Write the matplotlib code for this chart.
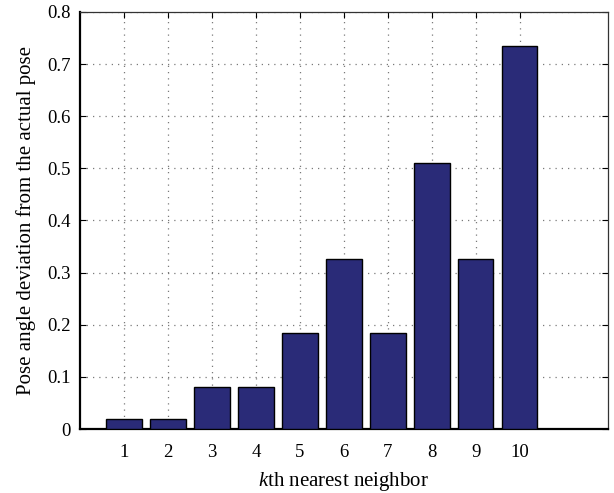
import numpy as np
import matplotlib
matplotlib.use('Agg')
import matplotlib.pyplot as plt

plt.rcParams['font.family'] = 'Liberation Serif'
plt.rcParams['mathtext.fontset'] = 'custom'
plt.rcParams['mathtext.rm'] = 'Liberation Serif'
plt.rcParams['mathtext.it'] = 'Liberation Serif:italic'

# k-th neighbour and its pose deviation
k = [1, 2, 3, 4, 5, 6, 7, 8, 9, 10]
deviation = [0.02, 0.02, 0.08, 0.08, 0.184, 0.326, 0.184, 0.51, 0.326, 0.735]
y_ticks = [0, 0.1, 0.2, 0.3, 0.4, 0.5, 0.6, 0.7, 0.8]
y_labels = ['0', '0.1', '0.2', '0.3', '0.4', '0.5', '0.6', '0.7', '0.8']

fig = plt.figure(figsize=(6.14, 4.93), dpi=100)
ax = fig.add_axes([0.1303, 0.1298, 0.8597, 0.8459])

ax.bar(k, deviation, width=0.8, color='#2a2b78', edgecolor='black',
       linewidth=1.0, zorder=3)

ax.set_xlim(0, 12)
ax.set_ylim(0, 0.8)
ax.set_xticks(k)
ax.set_yticks(y_ticks)
ax.set_yticklabels(y_labels)
ax.tick_params(direction='in', top=True, right=True, labelsize=13.5,
               length=4, width=0.8)
ax.tick_params(axis='x', pad=11)
ax.tick_params(axis='y', pad=7)

ax.grid(True, linestyle=(0, (1, 4)), color='#7a7a7a', linewidth=0.9, zorder=0)
ax.set_axisbelow(True)

for s in ax.spines.values():
    s.set_linewidth(0.9)
    s.set_color('#333333')
ax.spines['left'].set_linewidth(1.6)
ax.spines['bottom'].set_linewidth(1.6)
ax.spines['left'].set_color('black')
ax.spines['bottom'].set_color('black')

ax.set_xlabel(r'$k$th nearest neighbor', fontsize=15, labelpad=6)
ax.set_ylabel('Pose angle deviation from the actual pose', fontsize=15,
              labelpad=8)

fig.savefig('out.png', dpi=100)
